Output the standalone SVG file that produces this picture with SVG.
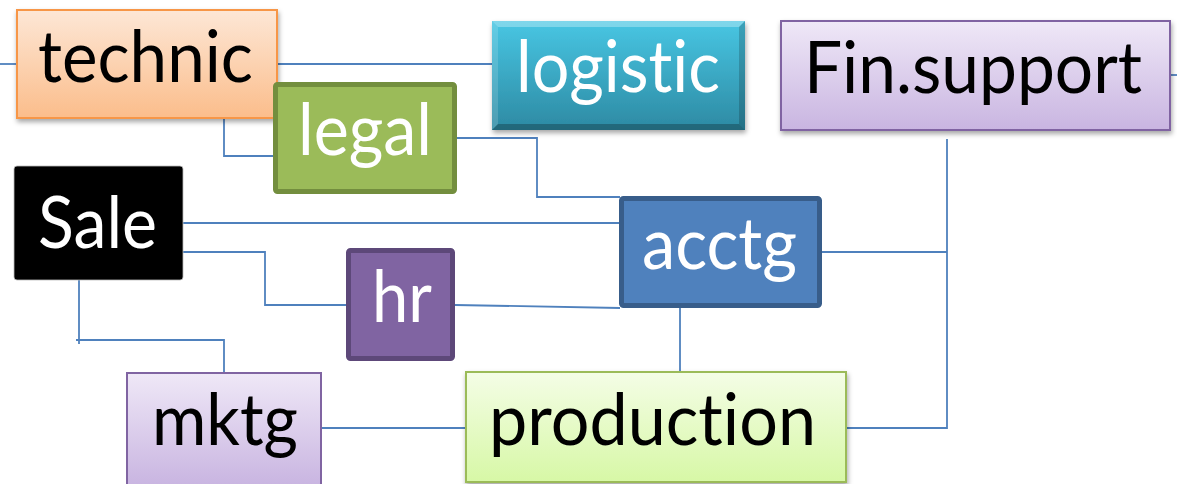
<svg xmlns="http://www.w3.org/2000/svg" width="1177" height="484" viewBox="0 0 1177 484">
<defs>
<linearGradient id="gOrange" x1="0" y1="0" x2="0" y2="1"><stop offset="0" stop-color="#fde7d6"/><stop offset="1" stop-color="#fbbd8b"/></linearGradient>
<linearGradient id="gLav" x1="0" y1="0" x2="0" y2="1"><stop offset="0" stop-color="#efe8f7"/><stop offset="1" stop-color="#c9b5e1"/></linearGradient>
<linearGradient id="gTeal" x1="0" y1="0" x2="0" y2="1"><stop offset="0" stop-color="#48c6e3"/><stop offset="1" stop-color="#2d8aa3"/></linearGradient>
<linearGradient id="gGreen" x1="0" y1="0" x2="0" y2="1"><stop offset="0" stop-color="#f4fde6"/><stop offset="1" stop-color="#d7f8a6"/></linearGradient>
<filter id="sh" x="-10%" y="-10%" width="125%" height="130%"><feDropShadow dx="1" dy="3" stdDeviation="2.5" flood-color="#000" flood-opacity="0.35"/></filter>
</defs>
<style>
.c{fill:none;stroke:#4f81bd;stroke-width:1.8}
.t{font-family:Lato,"Open Sans","Liberation Sans",sans-serif;font-size:72px;font-variant-ligatures:none}
.w{fill:#ffffff}
.k{fill:#000000}
</style>
<rect width="1177" height="484" fill="#ffffff"/>
<g id="connectors">
<path class="c" d="M0 64H16"/>
<path class="c" d="M278 64H492"/>
<path class="c" d="M1170 75H1177"/>
<path class="c" d="M224 119V156H274"/>
<path class="c" d="M457 138H537V197H620"/>
<path class="c" d="M183 223H620"/>
<path class="c" d="M183 252H265V305H347"/>
<path class="c" d="M455 305L620 308"/>
<path class="c" d="M79 278V344"/>
<path class="c" d="M76 340H224V373"/>
<path class="c" d="M321 428H466"/>
<path class="c" d="M680 308V372"/>
<path class="c" d="M822 252H947"/>
<path class="c" d="M947 139V428H846"/>
</g>
<g id="technic">
<rect x="17" y="10" width="260" height="108" fill="url(#gOrange)" stroke="#f79646" stroke-width="2" filter="url(#sh)"/>
<text class="t k" x="38" y="82" textLength="215" lengthAdjust="spacingAndGlyphs">technic</text>
</g>
<g id="logistic">
<rect x="492" y="21" width="253" height="109" fill="url(#gTeal)" filter="url(#sh)"/>
<polygon points="492,21 745,21 739,27 498,27" fill="#ffffff" fill-opacity="0.3"/>
<polygon points="492,21 498,27 498,124 492,130" fill="#ffffff" fill-opacity="0.15"/>
<polygon points="745,21 745,130 739,124 739,27" fill="#000000" fill-opacity="0.18"/>
<polygon points="492,130 498,124 739,124 745,130" fill="#000000" fill-opacity="0.25"/>
<text class="t w" x="516" y="92" textLength="204" lengthAdjust="spacingAndGlyphs">logistic</text>
</g>
<g id="finsupport">
<rect x="781" y="21" width="389" height="109" fill="url(#gLav)" stroke="#8064a2" stroke-width="2" filter="url(#sh)"/>
<text class="t k" x="804" y="93" textLength="338" lengthAdjust="spacingAndGlyphs">Fin.support</text>
</g>
<g id="legal">
<rect x="275.5" y="84.5" width="179" height="107" rx="2" fill="#9bbb59" stroke="#738e3e" stroke-width="5"/>
<text class="t w" x="298" y="155" textLength="134" lengthAdjust="spacingAndGlyphs">legal</text>
</g>
<g id="sale">
<rect x="14" y="166" width="169" height="114" rx="3" fill="#000000" stroke="#bbbbbb" stroke-width="0.8"/>
<text class="t w" x="38" y="248" textLength="119" lengthAdjust="spacingAndGlyphs">Sale</text>
</g>
<g id="hr">
<rect x="348.5" y="250.5" width="104" height="108" rx="2" fill="#8064a2" stroke="#5d4879" stroke-width="5"/>
<text class="t w" x="372" y="322" textLength="60" lengthAdjust="spacingAndGlyphs">hr</text>
</g>
<g id="acctg">
<rect x="621.5" y="198.5" width="198" height="107" rx="2" fill="#4f81bd" stroke="#385d8a" stroke-width="5"/>
<text class="t w" x="642" y="269" textLength="155" lengthAdjust="spacingAndGlyphs">acctg</text>
</g>
<g id="mktg">
<rect x="127" y="373" width="194" height="112" fill="url(#gLav)" stroke="#8064a2" stroke-width="2"/>
<text class="t k" x="152" y="445" textLength="146" lengthAdjust="spacingAndGlyphs">mktg</text>
</g>
<g id="production">
<rect x="466" y="372" width="380" height="110" fill="url(#gGreen)" stroke="#9bbb59" stroke-width="2" filter="url(#sh)"/>
<text class="t k" x="489" y="445" textLength="327" lengthAdjust="spacingAndGlyphs">production</text>
</g>
</svg>
